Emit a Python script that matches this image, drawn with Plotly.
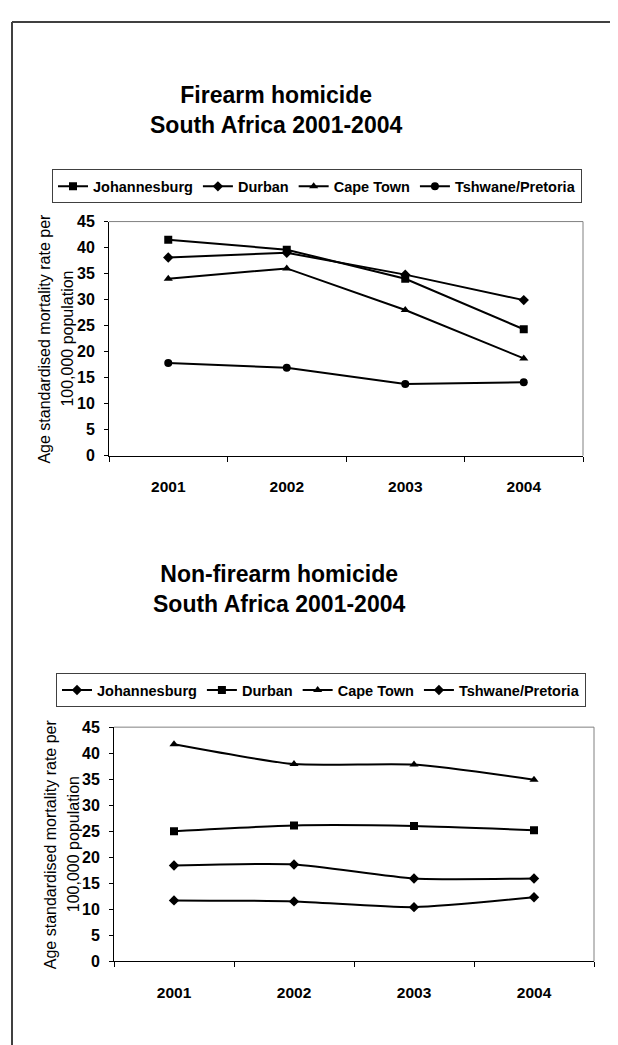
import plotly.graph_objects as go

# The page body has an 8px default margin, so the figure is drawn 8px in.
OFF = 8
W, H = 618 - OFF, 1045 - OFF

years = ["2001", "2002", "2003", "2004"]

# Chart 1: firearm homicide
cities_1 = ["Johannesburg", "Durban", "Cape Town", "Tshwane/Pretoria"]
firearm_johannesburg = [41.5, 39.6, 34.0, 24.3]
firearm_durban = [38.1, 39.0, 34.8, 29.9]
firearm_cape_town = [34.0, 36.0, 28.0, 18.7]
firearm_tshwane = [17.8, 16.9, 13.8, 14.1]
symbols_1 = ["square", "diamond", "triangle-up", "circle"]

# Chart 2: non-firearm homicide
cities_2 = ["Johannesburg", "Durban", "Cape Town", "Tshwane/Pretoria"]
nonfirearm_johannesburg = [18.4, 18.6, 15.9, 15.9]
nonfirearm_durban = [25.0, 26.1, 26.0, 25.2]
nonfirearm_cape_town = [41.7, 37.9, 37.8, 34.9]
nonfirearm_tshwane = [11.7, 11.5, 10.4, 12.3]
symbols_2 = ["diamond", "square", "triangle-up", "diamond"]

title_1 = "Firearm homicide<br>South Africa 2001-2004"
title_2 = "Non-firearm homicide<br>South Africa 2001-2004"
ytitle_line1 = "Age standardised mortality rate per"
ytitle_line2 = "100,000 population"

FONT = "Liberation Sans, Arial, Helvetica, sans-serif"

def px_x(v):
    return (v - OFF) / W

def px_y(v):
    return 1 - (v - OFF) / H

fig = go.Figure()

series_1 = [firearm_johannesburg, firearm_durban, firearm_cape_town, firearm_tshwane]
for name, vals, sym in zip(cities_1, series_1, symbols_1):
    fig.add_trace(go.Scatter(
        x=years, y=vals, name=name, mode="lines+markers",
        line=dict(color="black", width=2),
        marker=dict(symbol=sym, size=8, color="black"),
        xaxis="x", yaxis="y", legend="legend",
    ))

series_2 = [nonfirearm_johannesburg, nonfirearm_durban, nonfirearm_cape_town, nonfirearm_tshwane]
for name, vals, sym in zip(cities_2, series_2, symbols_2):
    fig.add_trace(go.Scatter(
        x=years, y=vals, name=name, mode="lines+markers",
        line=dict(color="black", width=2, shape="spline", smoothing=0.6),
        marker=dict(symbol=sym, size=8, color="black"),
        xaxis="x2", yaxis="y2", legend="legend2",
    ))

# plot areas (page pixels): chart1 x 109-583, y 217-455 ; chart2 x 114-594, y 731-969
p1 = dict(l=109, r=583, t=217, b=455)
p2 = dict(l=114, r=594, t=731, b=969)

def xaxis_cfg(p, anchor):
    return dict(
        domain=[px_x(p["l"]), px_x(p["r"])], anchor=anchor,
        type="category", range=[-0.5, 3.5], tickson="boundaries",
        ticks="outside", ticklen=5, tickcolor="black", tickwidth=1,
        showline=True, linecolor="black", linewidth=1,
        showgrid=False, zeroline=False,
        tickfont=dict(family=FONT, size=15.5, color="black", weight="bold"),
        ticklabelstandoff=17, fixedrange=True,
    )

def yaxis_cfg(p, anchor):
    return dict(
        domain=[px_y(p["b"]), px_y(p["t"])], anchor=anchor,
        range=[0, 45], tick0=0, dtick=5,
        ticks="outside", ticklen=4, tickcolor="black", tickwidth=1,
        showline=True, linecolor="black", linewidth=1,
        showgrid=False, zeroline=False,
        tickfont=dict(family=FONT, size=16, color="black", weight="bold"),
        ticklabelstandoff=6, fixedrange=True,
    )

def legend_cfg(x, y):
    return dict(
        orientation="h", x=px_x(x), y=px_y(y), xanchor="left", yanchor="top",
        bordercolor="#404040", borderwidth=1, bgcolor="white",
        font=dict(family=FONT, size=14.5, color="black", weight="bold"),
        itemwidth=30, tracegroupgap=0,
    )

shapes = []
# gray top & right border of each plot area
for xr, yr in (("x domain", "y domain"), ("x2 domain", "y2 domain")):
    shapes.append(dict(type="line", xref=xr, yref=yr, x0=0, x1=1, y0=1, y1=1,
                       line=dict(color="#808080", width=1)))
    shapes.append(dict(type="line", xref=xr, yref=yr, x0=1, x1=1, y0=0, y1=1,
                       line=dict(color="#808080", width=1)))
# outer frame (left and top visible)
shapes.append(dict(type="line", xref="paper", yref="paper",
                   x0=px_x(12), x1=px_x(12), y0=px_y(14), y1=-0.05,
                   line=dict(color="#404040", width=2)))
shapes.append(dict(type="line", xref="paper", yref="paper",
                   x0=px_x(12), x1=1.05, y0=px_y(14), y1=px_y(14),
                   line=dict(color="#404040", width=2)))

annotations = [
    dict(text=title_1, x=px_x(276), y=px_y(104), xref="paper", yref="paper",
         xanchor="center", yanchor="middle", showarrow=False,
         font=dict(family=FONT, size=23, color="black", weight="bold")),
    dict(text=title_2, x=px_x(279), y=px_y(591), xref="paper", yref="paper",
         xanchor="center", yanchor="middle", showarrow=False,
         font=dict(family=FONT, size=23, color="black", weight="bold")),
]
for p in (p1, p2):
    cy = (p["t"] + p["b"]) / 2
    for txt, cx in ((ytitle_line1, p["l"] - 64), (ytitle_line2, p["l"] - 41)):
        annotations.append(dict(
            text=txt, x=px_x(cx), y=px_y(cy), xref="paper", yref="paper",
            xanchor="center", yanchor="middle", textangle=-90, showarrow=False,
            font=dict(family=FONT, size=16, color="black"),
        ))

fig.update_layout(
    width=W, height=H, margin=dict(l=0, r=0, t=0, b=0),
    paper_bgcolor="white", plot_bgcolor="white",
    showlegend=True,
    xaxis=xaxis_cfg(p1, "y"), yaxis=yaxis_cfg(p1, "x"),
    xaxis2=xaxis_cfg(p2, "y2"), yaxis2=yaxis_cfg(p2, "x2"),
    legend=legend_cfg(52, 164), legend2=legend_cfg(56, 676),
    shapes=shapes, annotations=annotations,
    font=dict(family=FONT, color="black"),
)

fig.write_html("out.html")
